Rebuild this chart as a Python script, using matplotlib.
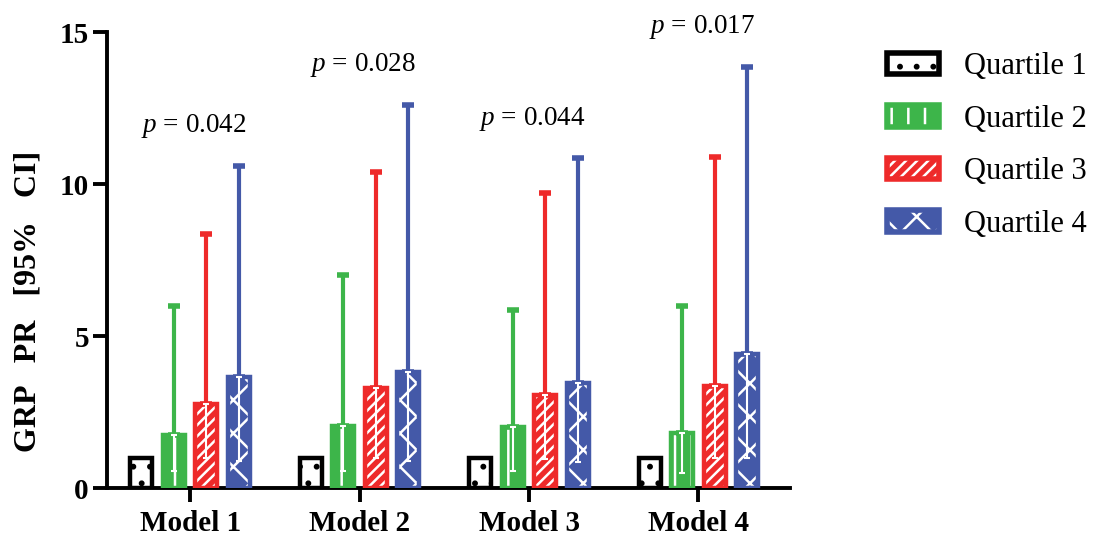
import matplotlib
matplotlib.use("Agg")
import matplotlib.pyplot as plt
import numpy as np
from matplotlib.patches import Rectangle
from matplotlib.legend_handler import HandlerTuple

models = ["Model 1", "Model 2", "Model 3", "Model 4"]
quartiles = ["Quartile 1", "Quartile 2", "Quartile 3", "Quartile 4"]
p_values = ["0.042", "0.028", "0.044", "0.017"]

# PR estimates per quartile across models
q1_pr = [1.0, 1.0, 1.0, 1.0]
q2_pr = [1.75, 2.05, 2.0, 1.8]
q3_pr = [2.75, 3.3, 3.05, 3.35]
q4_pr = [3.65, 3.8, 3.45, 4.4]
q2_upper = [6.0, 7.0, 5.85, 6.0]
q3_upper = [8.35, 10.4, 9.7, 10.9]
q4_upper = [10.6, 12.6, 10.85, 13.85]
q2_lower = [0.55, 0.55, 0.55, 0.5]
q3_lower = [1.0, 1.0, 0.95, 1.0]
q4_lower = [0.9, 0.9, 0.85, 1.0]

colors = ["#000000", "#3db54a", "#ee2a2a", "#4459a8"]
hatches = [".", "|", "///", "x"]

plt.rcParams["font.family"] = ["Liberation Serif", "DejaVu Serif"]
plt.rcParams["mathtext.fontset"] = "custom"
plt.rcParams["mathtext.rm"] = "Liberation Serif"
plt.rcParams["mathtext.it"] = "Liberation Serif:italic"
plt.rcParams["hatch.linewidth"] = 1.8

fig = plt.figure(figsize=(10.98, 5.39), dpi=100)
ax = fig.add_axes([0.0975, 0.0946, 0.622, 0.846])

x = np.arange(len(models))
step = 0.192
width = 0.13
offsets = (np.arange(4) - 1.5) * step

prs = [q1_pr, q2_pr, q3_pr, q4_pr]
uppers = [None, q2_upper, q3_upper, q4_upper]
lowers = [None, q2_lower, q3_lower, q4_lower]

handles = []
for i in range(4):
    xs = x + offsets[i]
    col = colors[i]
    if i == 0:
        ax.bar(xs, prs[i], width, color="white", edgecolor=col, hatch=hatches[i],
               linewidth=0, zorder=2)
    else:
        ax.bar(xs, prs[i], width, color=col, edgecolor="white", hatch=hatches[i],
               linewidth=0, zorder=2)
    ax.bar(xs, prs[i], width, fill=False, edgecolor=col, linewidth=3.2, zorder=3)
    if uppers[i] is not None:
        up = np.array(uppers[i]) - np.array(prs[i])
        ax.errorbar(xs, prs[i], yerr=[np.zeros(4), up], fmt="none", ecolor=col,
                    elinewidth=3, capsize=4, capthick=4, zorder=4)
        lo = np.array(prs[i]) - np.array(lowers[i])
        ax.errorbar(xs, prs[i], yerr=[lo, np.zeros(4)], fmt="none", ecolor="white",
                    elinewidth=1.5, capsize=2.5, capthick=1.5, zorder=4)
    hf = Rectangle((0, 0), 1, 1, facecolor="white" if i == 0 else col,
                   edgecolor=col if i == 0 else "white", hatch=hatches[i], linewidth=0)
    he = Rectangle((0, 0), 1, 1, fill=False, edgecolor=col, linewidth=4)
    handles.append((hf, he))

# p-values above groups
for j in range(4):
    top = max(q2_upper[j], q3_upper[j], q4_upper[j])
    ax.text(x[j] + 0.02, top + 1.3, r"$\mathit{p}$ = " + p_values[j], ha="center",
            va="center", fontsize=19.5)

ax.set_xlim(-0.49, 3.54)
ax.set_ylim(0, 15)
ax.set_yticks([0, 5, 10, 15])
ax.set_xticks(x)
ax.set_xticklabels(models, fontsize=21, fontweight="bold")
for lab in ax.get_yticklabels():
    lab.set_fontsize(21)
    lab.set_fontweight("bold")
ax.set_ylabel("GRP   PR   [95%   CI]", fontsize=23, fontweight="bold")
ax.yaxis.set_label_coords(-0.095, 0.41)
ax.spines["top"].set_visible(False)
ax.spines["right"].set_visible(False)
ax.spines["left"].set_linewidth(2.8)
ax.spines["bottom"].set_linewidth(2.8)
ax.tick_params(axis="both", direction="out", length=10, width=2.8, pad=3)
ax.tick_params(axis="x", pad=6)

fig.legend(handles, quartiles, handler_map={tuple: HandlerTuple(ndivide=1, pad=0)},
           loc="upper left", bbox_to_anchor=(0.797, 0.926), frameon=False,
           fontsize=22, handlelength=1.7, handleheight=0.72, labelspacing=0.77,
           handletextpad=0.8, borderaxespad=0)

fig.savefig("out.png", dpi=100)
